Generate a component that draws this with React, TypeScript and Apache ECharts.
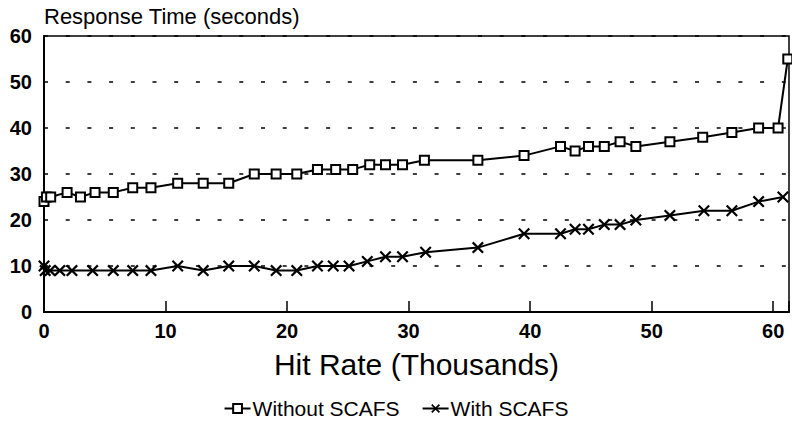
import React, { useEffect, useRef } from "react";
import * as echarts from "echarts";

const withoutX = [0, 0.2, 0.55, 1.9, 3.0, 4.2, 5.7, 7.3, 8.8, 11.0, 13.1, 15.2, 17.3, 19.1, 20.8, 22.5, 24.0, 25.4, 26.8, 28.1, 29.5, 31.3, 35.7, 39.5, 42.5, 43.7, 44.8, 46.1, 47.4, 48.7, 51.5, 54.2, 56.6, 58.8, 60.4, 61.2];
const withoutY = [24, 25, 25, 26, 25, 26, 26, 27, 27, 28, 28, 28, 30, 30, 30, 31, 31, 31, 32, 32, 32, 33, 33, 34, 36, 35, 36, 36, 37, 36, 37, 38, 39, 40, 40, 55];

const withX = [0, 0.1, 0.5, 1.3, 2.3, 4.0, 5.7, 7.3, 8.8, 11.0, 13.1, 15.2, 17.3, 19.1, 20.8, 22.5, 23.8, 25.1, 26.6, 28.1, 29.5, 31.4, 35.7, 39.5, 42.5, 43.7, 44.8, 46.1, 47.4, 48.7, 51.5, 54.3, 56.6, 58.8, 60.8];
const withY = [10, 9, 9, 9, 9, 9, 9, 9, 9, 10, 9, 10, 10, 9, 9, 10, 10, 10, 11, 12, 12, 13, 14, 17, 17, 18, 18, 19, 19, 20, 21, 22, 22, 24, 25];

const seriesNames = ["Without SCAFS", "With SCAFS"];
const xTitle = "Hit Rate (Thousands)";
const yTitle = "Response Time (seconds)";

const crossSymbol =
  "path://M0,1.3L1.3,0L5,3.7L8.7,0L10,1.3L6.3,5L10,8.7L8.7,10L5,6.3L1.3,10L0,8.7L3.7,5Z";
const FONT = "'Liberation Sans', Arial, Helvetica, sans-serif";

export default function App() {
  const ref = useRef<HTMLDivElement>(null);
  useEffect(() => {
    if (!ref.current) return;
    const chart = echarts.init(ref.current, null, { renderer: "svg" });
    const pairs = (xs: number[], ys: number[]) => xs.map((x, i) => [x, ys[i]]);
    chart.setOption({
      animation: false,
      backgroundColor: "#fff",
      textStyle: { fontFamily: FONT, color: "#000" },
      grid: {
        left: 44,
        right: 1,
        top: 36,
        bottom: 111,
        show: true,
        borderColor: "#000",
        borderWidth: 1.5,
        backgroundColor: "transparent",
      },
      legend: {
        data: seriesNames,
        left: "center",
        top: 398,
        padding: 0,
        itemWidth: 26,
        itemHeight: 11,
        itemGap: 22,
        textStyle: { fontFamily: FONT, fontSize: 21, color: "#000", padding: [0, 0, 0, -3] },
      },
      xAxis: {
        type: "value",
        min: 0,
        max: 61.3,
        interval: 10,
        name: xTitle,
        nameLocation: "middle",
        nameGap: 37,
        nameTextStyle: { fontFamily: FONT, fontSize: 30, color: "#000" },
        axisLine: { show: true, lineStyle: { color: "#000", width: 2 } },
        axisTick: { show: true, inside: true, length: 11, lineStyle: { color: "#000", width: 1.5 } },
        axisLabel: {
          fontFamily: FONT,
          fontSize: 20,
          fontWeight: "bold",
          color: "#000",
          margin: 9,
          formatter: (v: number) => (Math.abs(v % 10) < 1e-6 ? String(v) : ""),
        },
        splitLine: { show: false },
      },
      yAxis: {
        type: "value",
        min: 0,
        max: 60,
        interval: 10,
        name: yTitle,
        nameLocation: "end",
        nameGap: 9,
        nameTextStyle: { fontFamily: FONT, fontSize: 22, color: "#000", align: "left", verticalAlign: "bottom" },
        axisLine: { show: true, lineStyle: { color: "#000", width: 2 } },
        axisTick: { show: false },
        axisLabel: { fontFamily: FONT, fontSize: 20, fontWeight: "bold", color: "#000", margin: 12 },
        splitLine: { show: true, lineStyle: { color: "#000", width: 1.5, type: [4, 17.7] } },
      },
      series: [
        {
          name: seriesNames[0],
          type: "line",
          data: pairs(withoutX, withoutY),
          symbol: "emptyRect",
          symbolSize: 9,
          showAllSymbol: true,
          lineStyle: { color: "#000", width: 2 },
          itemStyle: { color: "#000", borderColor: "#000", borderWidth: 1.3 },
        },
        {
          name: seriesNames[1],
          type: "line",
          data: pairs(withX, withY),
          symbol: crossSymbol,
          symbolSize: 12,
          showAllSymbol: true,
          lineStyle: { color: "#000", width: 2 },
          itemStyle: { color: "#000" },
        },
      ],
    });
    return () => chart.dispose();
  }, []);
  return (
    <div
      ref={ref}
      style={{ position: "absolute", left: 0, top: 0, width: 792, height: 423, background: "#fff" }}
    />
  );
}
